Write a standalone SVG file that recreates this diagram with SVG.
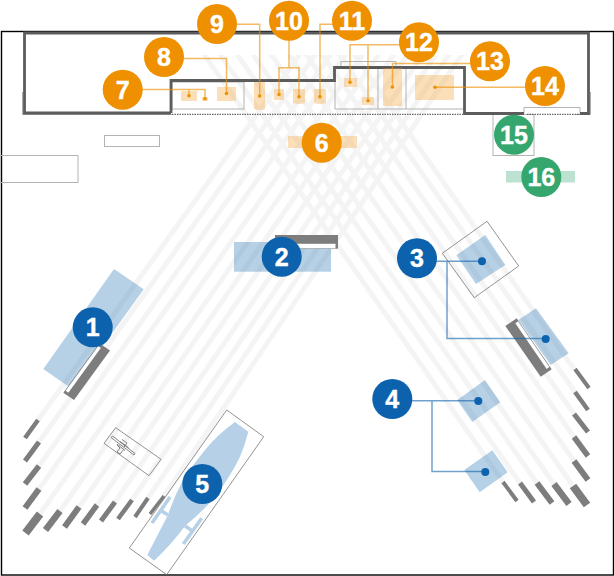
<svg xmlns="http://www.w3.org/2000/svg" width="614" height="576" viewBox="0 0 614 576">
<style>
text{font-family:"Liberation Sans",Arial,sans-serif;font-weight:700;font-size:25px;fill:#fff;text-anchor:middle;stroke:#fff;stroke-width:.4}
.b{stroke:#f4f4f4;stroke-width:5;fill:none}
.d{stroke:#7d7d7d;fill:none}
.g{fill:none;stroke:#b3b3b3;stroke-width:1}
.o{fill:#f0a030;fill-opacity:.34}
.u{fill:#0d62ad;fill-opacity:.3}
.t{fill:#36a66f;fill-opacity:.32}
.co{fill:#ee9000}.cb{fill:#0d62ad}.cg{fill:#36a66f}
.lo{fill:none;stroke:#ee9000;stroke-opacity:.62;stroke-width:1.5}
.lb{fill:none;stroke:#0d62ad;stroke-opacity:.6;stroke-width:1.5}
.do{fill:#ee9000}.db{fill:#0d62ad}
.k{fill:none;stroke:#666;stroke-width:.8}
</style>
<defs><clipPath id="top"><rect x="0" y="55" width="614" height="521"/></clipPath></defs>
<rect width="614" height="576" fill="#fff"/>
<rect x="1.500" y="31.500" width="612" height="543.500" fill="none" stroke="#000" stroke-width="1.400"/>
<g id="beams" clip-path="url(#top)">
<path class="b" d="M38 420L303 50M39 442L318.500 50M39 466L334 50M39 489L349 50M40 514L366 50M60 511L382 50M79 507L397 50M97 505L411 50M115 502L426 50M132 500L439 50M148 498L452 50M164 496L465 50"/>
<path class="b" d="M574 369L351 50M575 392L336 50M574 414L319 50M574 437L303 50M574 461L286 50M573 486L268 50M554 484L250 50M537 483L234 50M520 483L217 50M503 482L201 50"/>
</g>
<g id="array-left">
<path class="d" stroke-width="4.500" d="M25 438L38 420"/><path class="d" stroke-width="5" d="M25 461L39 442"/><path class="d" stroke-width="5.500" d="M25 484L39 466"/><path class="d" stroke-width="6" d="M25 508L39 489"/><path class="d" stroke-width="8" d="M25.500 533L40 514"/><path class="d" stroke-width="6.500" d="M45.500 530L60 511"/><path class="d" stroke-width="6" d="M64.500 527L79 507"/><path class="d" stroke-width="5.500" d="M83 524L97 505"/><path class="d" stroke-width="5" d="M101 521L115 502"/><path class="d" stroke-width="4.500" d="M118 519L132 500"/><path class="d" stroke-width="4" d="M135 517L148 498"/><path class="d" stroke-width="3.500" d="M150 514L164 496"/>
</g>
<g id="array-right">
<path class="d" stroke-width="4" d="M589 388L575 369"/><path class="d" stroke-width="4.500" d="M588 410L575 392"/><path class="d" stroke-width="5" d="M588 432L574 414"/><path class="d" stroke-width="5.500" d="M588 456L574 437"/><path class="d" stroke-width="6" d="M588 480L574 461"/><path class="d" stroke-width="8" d="M587 505L573 486"/><path class="d" stroke-width="6.500" d="M569 504L554 484"/><path class="d" stroke-width="6" d="M552 503L537 483"/><path class="d" stroke-width="5" d="M534 502L520 483"/><path class="d" stroke-width="4" d="M517 501L503 482"/>
</g>
<g id="building">
<rect class="g" x="172" y="82" width="72" height="27"/>
<path class="g" d="M335 68V109H463M378 68V109M406 68V109"/>
<path class="g" d="M341 68V61.500H396V68M524 113V107.500H580V113"/>
<rect class="g" x="104.500" y="135.500" width="55" height="11"/>
<rect class="g" x="0" y="155.500" width="78" height="27"/>
<rect class="g" x="493" y="114.500" width="41" height="41"/>
<path fill="none" stroke="#ababab" stroke-width="1" d="M22.500 92V114.500H172M590.500 92V114.500H576"/>
<path fill="none" stroke="#5c5c5c" stroke-width="2.800" d="M171 113V80.500H334.500V67.500H464.500V113.500H524M580 113.500H588.500V33H24.500V113H171"/>
<path fill="none" stroke="#444" stroke-width="1" stroke-dasharray="1.500 1" d="M172 114.300H463M527 114.300H580M342 68H395"/>
</g>
<g id="coverage">
<path class="u" d="M114 269L143.700 289.300L72 389L43.300 369Z"/>
<rect class="u" x="234" y="242" width="97" height="29.700"/>
<path class="u" d="M536 308.300L568.700 353.300L550.700 365L518.300 320Z"/>
<path class="u" d="M485.300 235L505.300 265L476 284L456.300 255.300Z"/>
<path class="u" d="M485 380L500.300 402.300L472.300 422L457.300 400Z"/>
<path class="u" d="M492.300 450.300L507.700 472.300L479.700 492.300L464.300 470Z"/>
<path class="o" d="M181 91h16v10h-16zM202 97h6v4h-6zM217 87h19v14h-19zM274 89h10v11h-10zM293 89h12v14q-6 2-12 0zM344 78h13v9h-13zM362 97h12v8h-12zM383 68h19v38h-19zM415 75h39v25h-39zM288 136h69v12h-69z"/>
<path class="o" d="M254 82h11v27q-5.500 2-11 0z"/>
<path class="o" d="M314 89h12v14q-6 2-12 0z"/>
<rect class="t" x="506" y="171" width="69" height="11.500"/>
</g>
<g id="speakers">
<path fill="#7d7d7d" d="M99.300 343.200L110 350.500L74 400L63.300 392.700Z"/>
<path fill="none" stroke="#fff" stroke-width="3.300" d="M99.500 347L67 391.800"/>
<rect x="275" y="235" width="63" height="13.700" fill="#7d7d7d"/>
<rect x="275" y="243.800" width="60.500" height="4.500" fill="#fff"/>
<path fill="#7d7d7d" d="M505.300 326L516.700 318.300L551.700 369.300L540.700 376.700Z"/>
<path fill="none" stroke="#fff" stroke-width="3.300" d="M516.700 322.200L548 368"/>
</g>
<g id="inset-3"><path fill="none" stroke="#777" stroke-width=".8" d="M487 221.300L518.700 266L474.300 297.700L442.300 253.300Z"/></g>
<g id="inset-5">
<path fill="none" stroke="#777" stroke-width=".8" d="M226.700 410L263.700 436.700L166.700 574.700L129.300 548Z"/>
<path fill="#b5d0e7" d="M235 422Q218 434 205 450Q192 466 183 480Q174 497 168 515L147.300 555L154 560.700Q171 545 185 526Q202 512 215 497Q230 477 240 456.700Q245 445 248.300 431.700Z"/>
<path fill="none" stroke="#b5d0e7" stroke-width="3.500" d="M170 497L152 523M160 510L168 515M201.700 518.300L183.300 544M185 526L192.500 531"/>
</g>
<g id="inset-plane">
<path fill="none" stroke="#777" stroke-width=".8" d="M115.700 427.700L161 459.300L149 475.700L104 443.300Z"/>
<path class="k" d="M111 437.500L112.500 436L135 453.500L134 455ZM122 439.500L127 443L124 447M117 445L120 448L117 452L120 454L124 449M120 441.500L128.500 447.500M117 444L125 450.500"/>
</g>
<g id="connectors">
<path class="lo" d="M122 89.500H205V98.700M189 89.500V95.700"/>
<path class="lo" d="M164 58.500H226.500V93.500"/>
<path class="lo" d="M237 24.300H259.700V96"/>
<path class="lo" d="M289 40V67.700M279 94.500V67.700H299V96.700"/>
<path class="lo" d="M352 24.300H320V96.700"/>
<path class="lo" d="M419 44.700H350V82.300M368 44.700V100.700"/>
<path class="lo" d="M490 63.500H392.500V87"/>
<path class="lo" d="M545 87.300H435"/>
<path class="lb" d="M417 261.300H482M447 261.300V338.500H545.700"/>
<path class="lb" d="M392 400.700H478.300M432 400.700V471.500H485.300"/>
<circle class="do" cx="189" cy="95.700" r="1.800"/><circle class="do" cx="205" cy="98.700" r="1.800"/><circle class="do" cx="226.500" cy="93.500" r="1.800"/><circle class="do" cx="259.700" cy="96" r="1.800"/><circle class="do" cx="279" cy="94.500" r="1.800"/><circle class="do" cx="299" cy="96.700" r="1.800"/><circle class="do" cx="320" cy="96.700" r="1.800"/><circle class="do" cx="350" cy="82.300" r="1.800"/><circle class="do" cx="368" cy="100.700" r="1.800"/><circle class="do" cx="392.300" cy="87" r="1.800"/><circle class="do" cx="435" cy="87.300" r="1.800"/>
<circle class="db" cx="482" cy="261.300" r="4"/><circle class="db" cx="545.700" cy="339" r="4"/><circle class="db" cx="478.300" cy="401" r="4"/><circle class="db" cx="485.300" cy="472" r="4"/>
</g>
<g id="node-1"><circle class="cb" cx="92.700" cy="327.300" r="20"/><text x="92.700" y="336">1</text></g>
<g id="node-2"><circle class="cb" cx="281.700" cy="256.700" r="20"/><text x="281.700" y="265.500">2</text></g>
<g id="node-3"><circle class="cb" cx="417" cy="258.300" r="20"/><text x="417" y="267">3</text></g>
<g id="node-4"><circle class="cb" cx="392.300" cy="399" r="20"/><text x="392.300" y="408">4</text></g>
<g id="node-5"><circle class="cb" cx="202.300" cy="484" r="20"/><text x="202.300" y="493">5</text></g>
<g id="node-6"><circle class="co" cx="321.700" cy="142.700" r="20"/><text x="321.700" y="151.500">6</text></g>
<g id="node-7"><circle class="co" cx="122.700" cy="89.700" r="20"/><text x="122.700" y="98.500">7</text></g>
<g id="node-8"><circle class="co" cx="164" cy="57" r="20"/><text x="164" y="66">8</text></g>
<g id="node-9"><circle class="co" cx="217" cy="24" r="20"/><text x="217" y="33">9</text></g>
<g id="node-10"><circle class="co" cx="289" cy="20.700" r="20"/><text x="289" y="29.700">10</text></g>
<g id="node-11"><circle class="co" cx="352" cy="20.700" r="20"/><text x="352" y="29.700">11</text></g>
<g id="node-12"><circle class="co" cx="419" cy="42.300" r="20"/><text x="419" y="51.300">12</text></g>
<g id="node-13"><circle class="co" cx="490" cy="61.300" r="20"/><text x="490" y="70.300">13</text></g>
<g id="node-14"><circle class="co" cx="545" cy="86" r="20"/><text x="545" y="95">14</text></g>
<g id="node-15"><circle class="cg" cx="514" cy="134.700" r="20"/><text x="514" y="143.700">15</text></g>
<g id="node-16"><circle class="cg" cx="541.300" cy="177" r="20"/><text x="541.300" y="186">16</text></g>
</svg>
